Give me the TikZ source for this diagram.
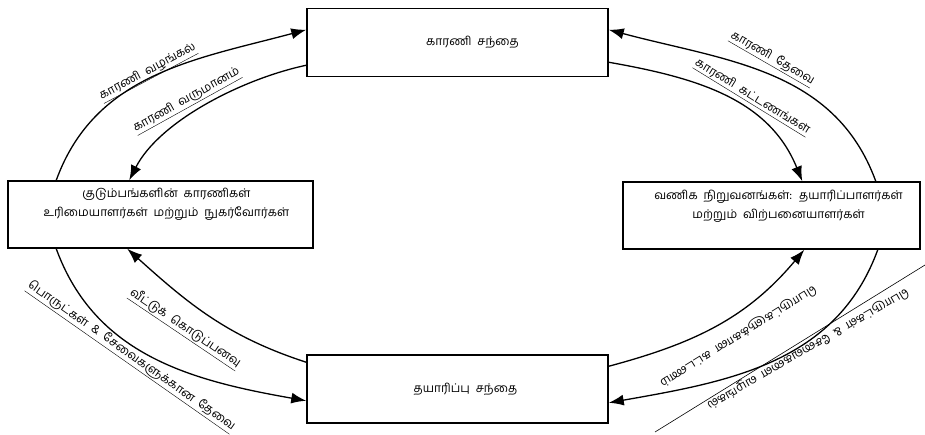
\documentclass[tikz,border=0pt]{standalone}
\usepackage{fontspec}
\setmainfont[Script=Tamil,WordSpace=2]{Hind Madurai}
\usetikzlibrary{arrows.meta}

\tikzset{
  mbox/.style={draw, line width=1.5pt, minimum width=301pt, minimum height=68pt, inner sep=0pt},
  flow/.style={line width=1.3pt, -{Latex[length=15pt,width=11pt]}},
  lbl/.style={font=\fontsize{12}{19}\selectfont, inner sep=1pt}
}

\begin{document}
\begin{tikzpicture}[x=1pt,y=1pt]
\useasboundingbox (0,0) rectangle (925,434);

% the four boxes
\node[mbox] (fm) at (457.5,391.5) {};
\node[mbox, minimum width=305pt, minimum height=67pt] (hh) at (160.5,219.5) {};
\node[mbox, minimum width=297pt, minimum height=67pt] (bf) at (771.5,218.5) {};
\node[mbox] (pm) at (457.5,45) {};

\node[lbl] (fmt) at ([xshift=15pt]fm.center) {காரணி சந்தை};
\node[lbl, align=center] (hht) at ([xshift=6pt,yshift=10pt]hh.center) {குடும்பங்களின் காரணிகள்\\ உரிமையாளர்கள் மற்றும் நுகர்வோர்கள்};
\node[lbl, align=center] (bft) at ([xshift=7pt,yshift=9pt]bf.center) {வணிக நிறுவனங்கள்: தயாரிப்பாளர்கள்\\ மற்றும் விற்பனையாளர்கள்};
\node[lbl] (pmt) at ([xshift=8pt]pm.center) {தயாரிப்பு சந்தை};

% upper half
\draw[flow] ([xshift=49pt]hh.north west) to[out=70,in=195] ([yshift=-22pt]fm.north west);
\draw[flow] ([yshift=12pt]fm.south west) to[out=192,in=63,looseness=0.8] ([xshift=122pt]hh.north west);
\draw[flow] ([xshift=-45pt]bf.north east) to[out=110,in=-15] ([yshift=-22pt]fm.north east);
\draw[flow] ([yshift=15pt]fm.south east) to[out=-10,in=112] ([xshift=180pt]bf.north west);

% lower half
\draw[flow] ([xshift=49pt]hh.south west) to[out=-70,in=170] ([yshift=23pt]pm.south west);
\draw[flow] ([yshift=-8pt]pm.north west) to[out=162,in=-42] ([xshift=120pt]hh.south west);
\draw[flow] ([yshift=-12pt]pm.north east) to[out=15,in=-130] ([xshift=182pt]bf.south west);
\draw[flow] ([xshift=-43pt]bf.south east) to[out=-110,in=10] ([yshift=21pt]pm.south east);

% labels
\node[lbl, rotate=28, anchor=south] (l1) at (152,354) {\underline{காரணி வழங்கல்}};
\node[lbl, rotate=29, anchor=south] (l2) at (191,326) {\underline{காரணி வருமானம்}};
\node[lbl, rotate=-30, anchor=south] (l3) at (768,368) {\underline{காரணி தேவை}};
\node[lbl, rotate=-31.6, anchor=south] (l4) at (748,330) {\underline{காரணி கட்டணங்கள்}};
\node[lbl, rotate=-34, anchor=south] (l5) at (180,98) {\underline{வீட்டுக் கொடுப்பனவு}};
\node[lbl, rotate=-35, anchor=south] (l6) at (126,70) {\underline{பொருட்கள் \& சேவைகளுக்கான தேவை}};
\node[lbl, rotate=211.7] (l7) at (738,98) {பொருட்களுக்கான கட்டணம்};
\node[lbl, rotate=210, anchor=east] (l8) at (707,27) {பொருட்கள் \& சேவைகளை வழங்கல்};
\coordinate (s1) at (655,2);
\coordinate (s2) at (925,169);
\draw[line width=0.6pt] (s1) -- (s2);
\end{tikzpicture}
\end{document}
